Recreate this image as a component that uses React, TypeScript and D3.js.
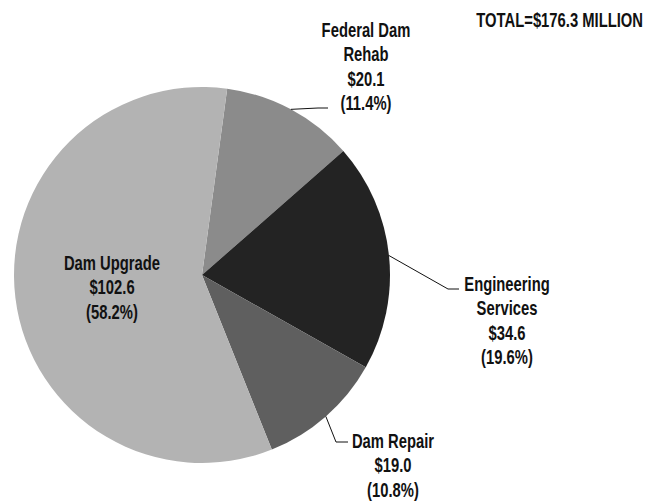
import React from 'react';
import * as d3 from 'd3';

// budget split, $ millions
const categories = ['Federal Dam Rehab', 'Engineering Services', 'Dam Repair', 'Dam Upgrade'];
const values = [20.1, 34.6, 19.0, 102.6];
const percents = ['11.4%', '19.6%', '10.8%', '58.2%'];
const labelLines = [
  ['Federal Dam', 'Rehab'],
  ['Engineering', 'Services'],
  ['Dam Repair'],
  ['Dam Upgrade'],
];
const totalLabel = 'TOTAL=$176.3 MILLION';

const colors = ['#8b8b8b', '#232323', '#5f5f5f', '#b3b3b3'];

const W = 646;
const H = 503;
const cx = 202;
const cy = 275;
const r = 188;
const FONT = '"Liberation Sans", Arial, sans-serif';
const SQUEEZE = 0.74; // fake a condensed face

// label layout: text center x, first baseline y, leader elbow (null = inside)
const labelPos = [
  { x: 366, y: 37, elbow: [318, 108], end: [328, 108] },
  { x: 507, y: 291, elbow: [448, 289], end: [459, 289] },
  { x: 393, y: 448, elbow: [336, 442], end: [348, 442] },
  { x: 112, y: 270, elbow: null, end: null },
];

const App = () => {
  const start = (7.7 * Math.PI) / 180;
  const pie = d3.pie<number>().sort(null).startAngle(start).endAngle(start + 2 * Math.PI);
  const arcs = pie(values);
  const arc = d3.arc<d3.PieArcDatum<number>>().innerRadius(0).outerRadius(r);
  const edge = d3.arc<d3.PieArcDatum<number>>().innerRadius(r).outerRadius(r);
  const lh = 24.5;

  return (
    <svg width={W} height={H} style={{ position: 'absolute', left: 0, top: 0 }}>
      <rect width={W} height={H} fill="#fff" />
      <g transform={`translate(${cx},${cy})`}>
        {arcs.map((a, i) => (
          <path key={categories[i]} d={arc(a) || ''} fill={colors[i]} />
        ))}
      </g>
      {arcs.map((a, i) => {
        const p = labelPos[i];
        if (!p.elbow) return null;
        const [ex, ey] = edge.centroid(a);
        const pts: [number, number][] = [[cx + ex, cy + ey], p.elbow as [number, number], p.end as [number, number]];
        return (
          <path key={'l' + i} d={d3.line()(pts) || ''} fill="none" stroke="#111" strokeWidth={1} />
        );
      })}
      {labelLines.map((lines, i) => {
        const p = labelPos[i];
        const all = [...lines, '$' + values[i].toFixed(1), '(' + percents[i] + ')'];
        return (
          <g key={'t' + i} transform={`translate(${p.x},${p.y}) scale(${SQUEEZE},1)`}>
            <text textAnchor="middle" fontFamily={FONT} fontWeight="bold" fontSize={20} fill="#111">
              {all.map((s, j) => (
                <tspan key={j} x={0} y={j * lh}>{s}</tspan>
              ))}
            </text>
          </g>
        );
      })}
      <g transform={`translate(643,27) scale(${SQUEEZE},1)`}>
        <text textAnchor="end" fontFamily={FONT} fontWeight="bold" fontSize={20} fill="#111">
          {totalLabel}
        </text>
      </g>
    </svg>
  );
};

export default App;
